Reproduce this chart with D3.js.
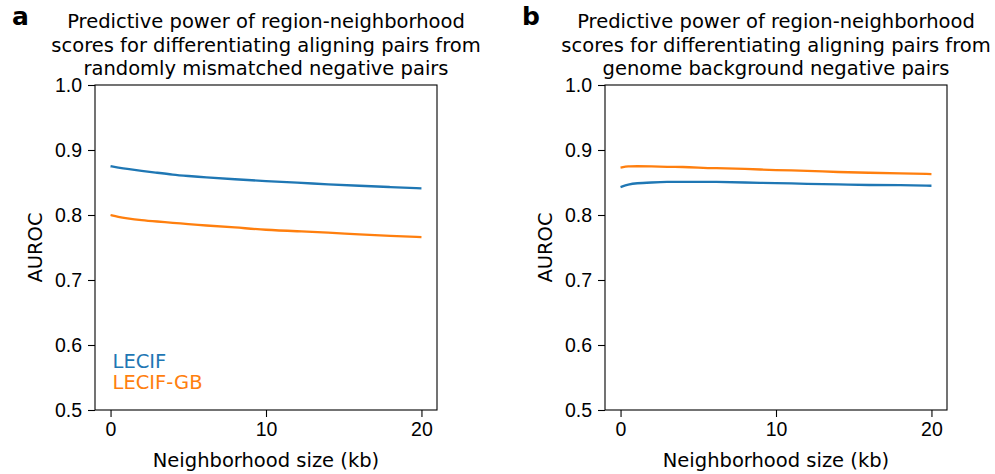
<!DOCTYPE html>
<html lang="en">
  <head>
    <meta charset="UTF-8" />
    <title>AUROC vs neighborhood size</title>
    <style>
      body {
        margin: 0;
        background: #fff;
      }
      svg {
        display: block;
        font-family: "DejaVu Sans", sans-serif;
      }
      .axis path,
      .axis line {
        stroke: #000;
        stroke-width: 1.1;
      }
      .axis text {
        font-size: 19.5px;
        fill: #000;
      }
    </style>
    <script src="https://cdn.jsdelivr.net/npm/d3@7"></script>
  </head>
  <body>
    <div class="container"></div>
    <script>
      // neighborhood sizes (kb)
      const sizes = [0, 0.5, 1, 2, 3, 4, 5, 6, 8, 10, 12, 14, 16, 18, 20];

      // panel a: aligning pairs vs randomly mismatched negatives
      const aLECIF = [0.875, 0.873, 0.871, 0.868, 0.865, 0.862, 0.86, 0.858, 0.855, 0.852, 0.85, 0.847, 0.845, 0.843, 0.841];
      const aLECIFGB = [0.8, 0.797, 0.795, 0.792, 0.79, 0.788, 0.786, 0.784, 0.781, 0.777, 0.775, 0.773, 0.77, 0.768, 0.766];

      // panel b: aligning pairs vs genome background negatives
      const bLECIF = [0.843, 0.847, 0.849, 0.85, 0.851, 0.851, 0.851, 0.851, 0.85, 0.849, 0.848, 0.847, 0.846, 0.846, 0.845];
      const bLECIFGB = [0.873, 0.875, 0.875, 0.875, 0.874, 0.874, 0.873, 0.872, 0.871, 0.869, 0.868, 0.866, 0.865, 0.864, 0.863];

      const seriesNames = ["LECIF", "LECIF-GB"];
      const xTicks = [0, 10, 20];
      const yTicks = [0.5, 0.6, 0.7, 0.8, 0.9, 1.0];

      const panels = [
        {
          label: "a",
          title: [
            "Predictive power of region-neighborhood",
            "scores for differentiating aligning pairs from",
            "randomly mismatched negative pairs",
          ],
          series: [aLECIF, aLECIFGB],
          legend: true,
          left: 95,
        },
        {
          label: "b",
          title: [
            "Predictive power of region-neighborhood",
            "scores for differentiating aligning pairs from",
            "genome background negative pairs",
          ],
          series: [bLECIF, bLECIFGB],
          legend: false,
          left: 605,
        },
      ];

      const width = 995,
        height = 474;
      const plotW = 342,
        plotTop = 85,
        plotBottom = 410;
      const fontSize = "19.5px";

      const color = d3.scaleOrdinal(seriesNames, ["#1f77b4", "#ff7f0e"]);

      const svg = d3
        .select(".container")
        .append("svg")
        .attr("width", width)
        .attr("height", height);

      panels.forEach(function (p) {
        const x = d3.scaleLinear().domain([-1, 21]).range([p.left, p.left + plotW]);
        const y = d3.scaleLinear().domain([0.5, 1.0]).range([plotBottom, plotTop]);

        const g = svg.append("g");

        // lines
        const line = d3
          .line()
          .x(function (d) {
            return x(d[0]);
          })
          .y(function (d) {
            return y(d[1]);
          })
          .curve(d3.curveBasis);

        p.series.forEach(function (vals, i) {
          g.append("path")
            .datum(sizes.map(function (s, j) {
              return [s, vals[j]];
            }))
            .attr("fill", "none")
            .attr("stroke", color(seriesNames[i]))
            .attr("stroke-width", 2.3)
            .attr("d", line);
        });

        // axes
        g.append("g")
          .attr("class", "axis")
          .attr("transform", "translate(0," + plotBottom + ")")
          .call(d3.axisBottom(x).tickValues(xTicks).tickSize(7).tickPadding(5).tickSizeOuter(0))
          .call(function (s) {
            s.select(".domain").remove();
          });

        g.append("g")
          .attr("class", "axis")
          .attr("transform", "translate(" + p.left + ",0)")
          .call(
            d3
              .axisLeft(y)
              .tickValues(yTicks)
              .tickFormat(d3.format(".1f"))
              .tickSize(7)
              .tickPadding(6)
          )
          .call(function (s) {
            s.select(".domain").remove();
          });

        // frame
        g.append("rect")
          .attr("x", p.left)
          .attr("y", plotTop)
          .attr("width", plotW)
          .attr("height", plotBottom - plotTop)
          .attr("fill", "none")
          .attr("stroke", "#000")
          .attr("stroke-width", 1.1);

        // axis labels
        g.append("text")
          .attr("x", p.left + plotW / 2)
          .attr("y", 467)
          .attr("text-anchor", "middle")
          .style("font-size", fontSize)
          .text("Neighborhood size (kb)");

        g.append("text")
          .attr("transform", "translate(" + (p.left - 53) + "," + (plotTop + plotBottom) / 2 + ") rotate(-90)")
          .attr("text-anchor", "middle")
          .style("font-size", fontSize)
          .text("AUROC");

        // title
        g.append("text")
          .attr("x", p.left + plotW / 2)
          .attr("text-anchor", "middle")
          .style("font-size", fontSize)
          .selectAll("tspan")
          .data(p.title)
          .enter()
          .append("tspan")
          .attr("x", p.left + plotW / 2)
          .attr("y", function (d, i) {
            return 28 + i * 23.5;
          })
          .text(function (d) {
            return d;
          });

        // panel letter
        g.append("text")
          .attr("x", p.left - 83)
          .attr("y", 25)
          .style("font-size", "25px")
          .style("font-weight", "bold")
          .text(p.label);

        if (p.legend) {
          g.selectAll(".legend")
            .data(seriesNames)
            .enter()
            .append("text")
            .attr("class", "legend")
            .attr("x", x(0) + 2)
            .attr("y", function (d, i) {
              return 368 + i * 21;
            })
            .style("font-size", fontSize)
            .attr("fill", color)
            .text(function (d) {
              return d;
            });
        }
      });
    </script>
  </body>
</html>
